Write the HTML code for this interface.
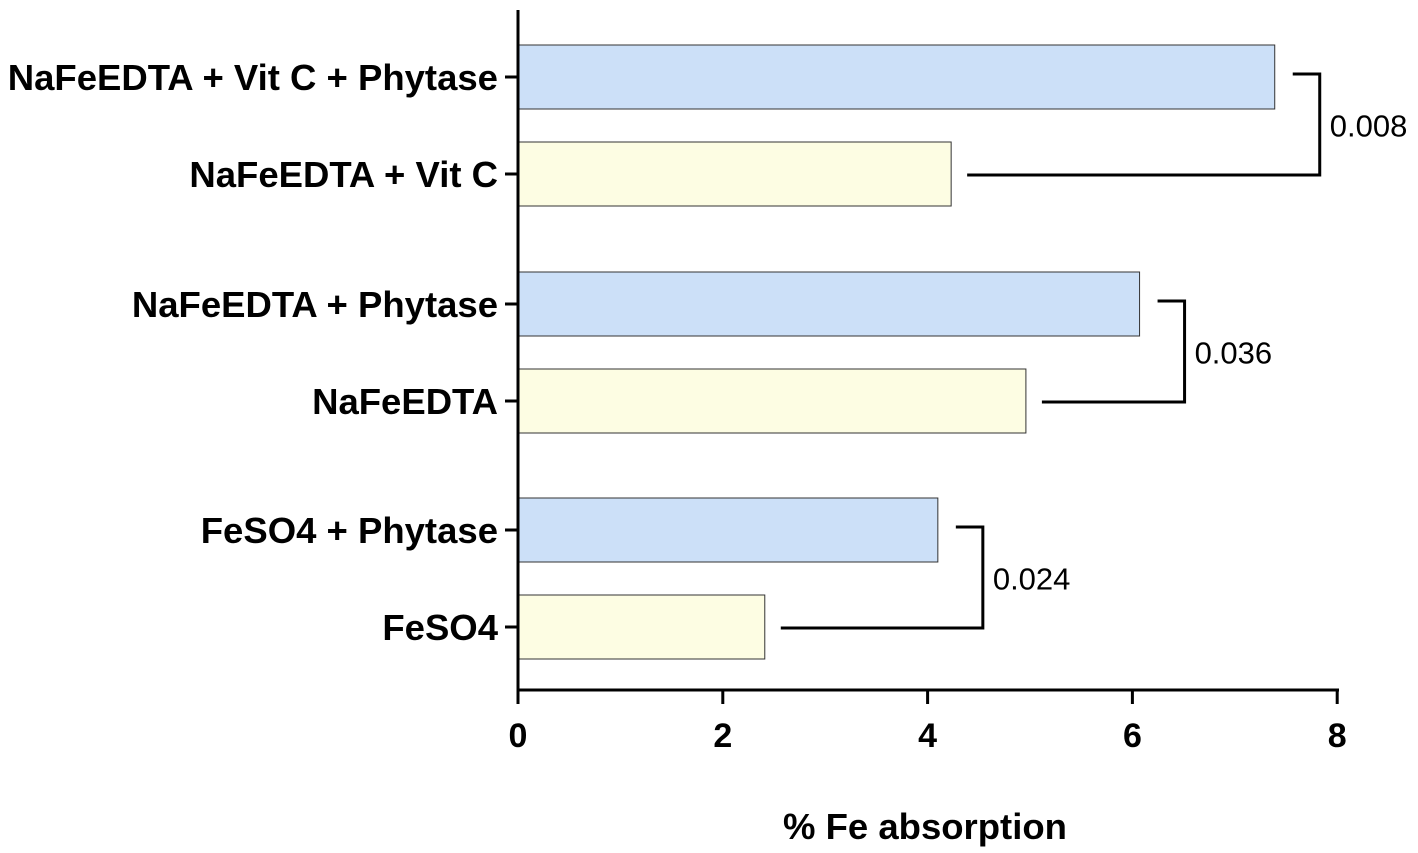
<!DOCTYPE html>
<html><head><meta charset="utf-8"><style>
html,body{margin:0;padding:0;background:#fff;}
svg{display:block;font-family:"Liberation Sans",Arial,sans-serif;}
</style></head><body>
<svg id="chart" width="1418" height="853"></svg>
<script>
const categories=["NaFeEDTA + Vit C + Phytase","NaFeEDTA + Vit C","NaFeEDTA + Phytase","NaFeEDTA","FeSO4 + Phytase","FeSO4"];
const values=[7.39,4.23,6.07,4.96,4.10,2.41];
const groups=["phytase","control","phytase","control","phytase","control"];
const xTicks=[0,2,4,6,8];
const pLabels=["0.008","0.036","0.024"];
const pPairs=[[0,1],[2,3],[4,5]];

const NS="http://www.w3.org/2000/svg";
const svg=document.getElementById("chart");
const x0=518, xScale=102.4;
const X=v=>x0+v*xScale;
const barCenters=[77,174,304,401,530,627];
const Y=i=>barCenters[i];
const barH=64;
function el(tag,attrs,parent){const e=document.createElementNS(NS,tag);for(const k in attrs)e.setAttribute(k,attrs[k]);(parent||svg).appendChild(e);return e;}

values.forEach((v,i)=>{
  const r=el("rect",{x:X(0),y:Y(i)-barH/2,width:X(v)-X(0),height:barH,fill:groups[i]==="phytase"?"#cce0f8":"#fdfde3",stroke:"#333","stroke-width":1});
  
  
  const t=el("line",{x1:505,x2:518,y1:Y(i),y2:Y(i),stroke:"#000","stroke-width":3});
  
  
  const l=el("text",{x:498,y:Y(i)+13,"text-anchor":"end","font-size":36.5,"font-weight":"bold",fill:"#000"});
  l.textContent=categories[i];
  
  
});

const ya=el("line",{x1:518,x2:518,y1:10,y2:691,stroke:"#000","stroke-width":3});


const xa=el("line",{x1:517,x2:1339,y1:690,y2:690,stroke:"#000","stroke-width":3});


xTicks.forEach(v=>{
  const t=el("line",{x1:X(v),x2:X(v),y1:690,y2:704,stroke:"#000","stroke-width":3});
  
  
  const l=el("text",{x:X(v),y:747,"text-anchor":"middle","font-size":34,"font-weight":"bold"});
  l.textContent=v;
  
  
});
const xt=el("text",{x:925,y:839,"text-anchor":"middle","font-size":36.5,"font-weight":"bold"});
xt.textContent="% Fe absorption";



pPairs.forEach((p,k)=>{
  const a=p[0],b=p[1];
  const ra=X(values[a])+18, rb=X(values[b])+16;
  const bx=Math.max(ra,rb)+27;
  const path=el("path",{d:`M${ra},${Y(a)-3} H${bx} V${Y(b)+1} H${rb}`,fill:"none",stroke:"#000","stroke-width":3});
  
  
  const t=el("text",{x:bx+10,y:(Y(a)+Y(b))/2+11,"font-size":31,fill:"#000"});
  t.textContent=pLabels[k];
  
  
});
</script>
</body></html>
